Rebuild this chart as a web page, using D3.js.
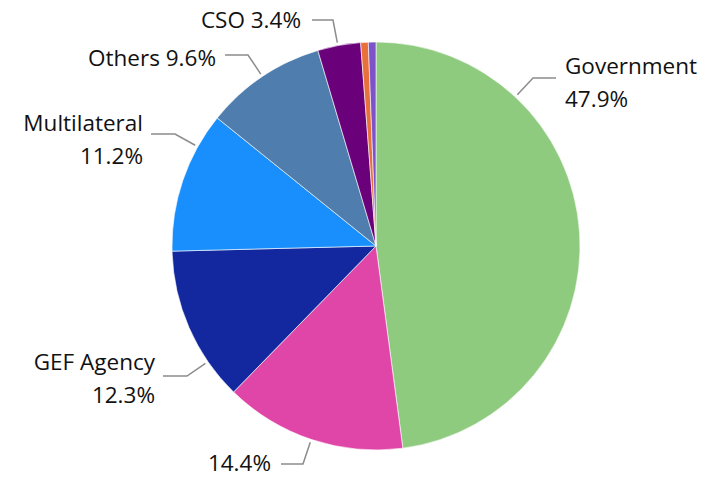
<!DOCTYPE html>
<html lang="en">
<head>
<meta charset="utf-8">
<title>Share by partner type</title>
<script src="https://cdn.jsdelivr.net/npm/d3@7"></script>
<style>
  body { margin: 0; background: #fff; }
  text { font-family: "Open Sans", "Noto Sans", sans-serif; font-size: 22.5px; fill: #111; }
</style>
</head>
<body>
<script>
// slice data, clockwise from 12 o'clock
var categories = ["Government", "", "GEF Agency", "Multilateral", "Others", "CSO", "Other A", "Other B"];
var values = [47.9, 14.4, 12.3, 11.2, 9.6, 3.4, 0.6, 0.6];
var valueLabels = ["47.9%", "14.4%", "12.3%", "11.2%", "9.6%", "3.4%", "", ""];
var colors = ["#8fcb7f", "#e046a8", "#13289f", "#198ffd", "#4f7eae", "#6b007b", "#e8703a", "#7e52c8"];

// label layout: elbow of the leader, end of the leader, text anchor point, one or two lines
var labelLayout = [
  { elbow: [533, 78], end: [556, 78], tx: 565, ty: 74, anchor: "start", twoLines: true },
  { elbow: [303, 464], end: [281, 464], tx: 271, ty: 471, anchor: "end", twoLines: false },
  { elbow: [187, 376], end: [163, 376], tx: 155, ty: 370, anchor: "end", twoLines: true },
  { elbow: [175, 134], end: [151, 134], tx: 143, ty: 131, anchor: "end", twoLines: true },
  { elbow: [248, 55], end: [225, 55], tx: 216, ty: 66, anchor: "end", twoLines: false },
  { elbow: [333, 20], end: [312, 20], tx: 301, ty: 28, anchor: "end", twoLines: false },
  null,
  null
];

var w = 724, h = 480;
var cx = 376, cy = 246, r = 204;

var svg = d3.select("body").append("svg")
  .attr("width", w)
  .attr("height", h);

var pie = d3.pie().sort(null).value(function(d) { return d; });
var arcs = pie(values);
var arc = d3.arc().innerRadius(0).outerRadius(r);

var g = svg.append("g").attr("transform", "translate(" + cx + "," + cy + ")");

g.selectAll("path")
  .data(arcs)
  .enter()
  .append("path")
  .attr("d", arc)
  .attr("fill", function(d, i) { return colors[i]; })
  .attr("stroke", "#fff")
  .attr("stroke-width", 0.6);

// leader lines + labels
arcs.forEach(function(d, i) {
  var L = labelLayout[i];
  if (!L) return;
  // point on the slice arc facing the elbow
  var ex = L.elbow[0] - cx, ey = L.elbow[1] - cy;
  var a = Math.atan2(ex, -ey);
  if (a < 0) a += 2 * Math.PI;
  a = Math.max(d.startAngle, Math.min(d.endAngle, a));
  var sx = cx + (r + 3) * Math.sin(a), sy = cy - (r + 3) * Math.cos(a);

  svg.append("polyline")
    .attr("points", [[sx, sy], L.elbow, L.end].map(function(p) { return p.join(","); }).join(" "))
    .attr("fill", "none")
    .attr("stroke", "#8c8c8c")
    .attr("stroke-width", 1.5);

  var t = svg.append("text")
    .attr("x", L.tx)
    .attr("y", L.ty)
    .attr("text-anchor", L.anchor);
  if (L.twoLines) {
    t.append("tspan").attr("x", L.tx).text(categories[i]);
    t.append("tspan").attr("x", L.tx).attr("dy", 33).text(valueLabels[i]);
  } else {
    t.text((categories[i] ? categories[i] + " " : "") + valueLabels[i]);
  }
});
</script>
</body>
</html>
